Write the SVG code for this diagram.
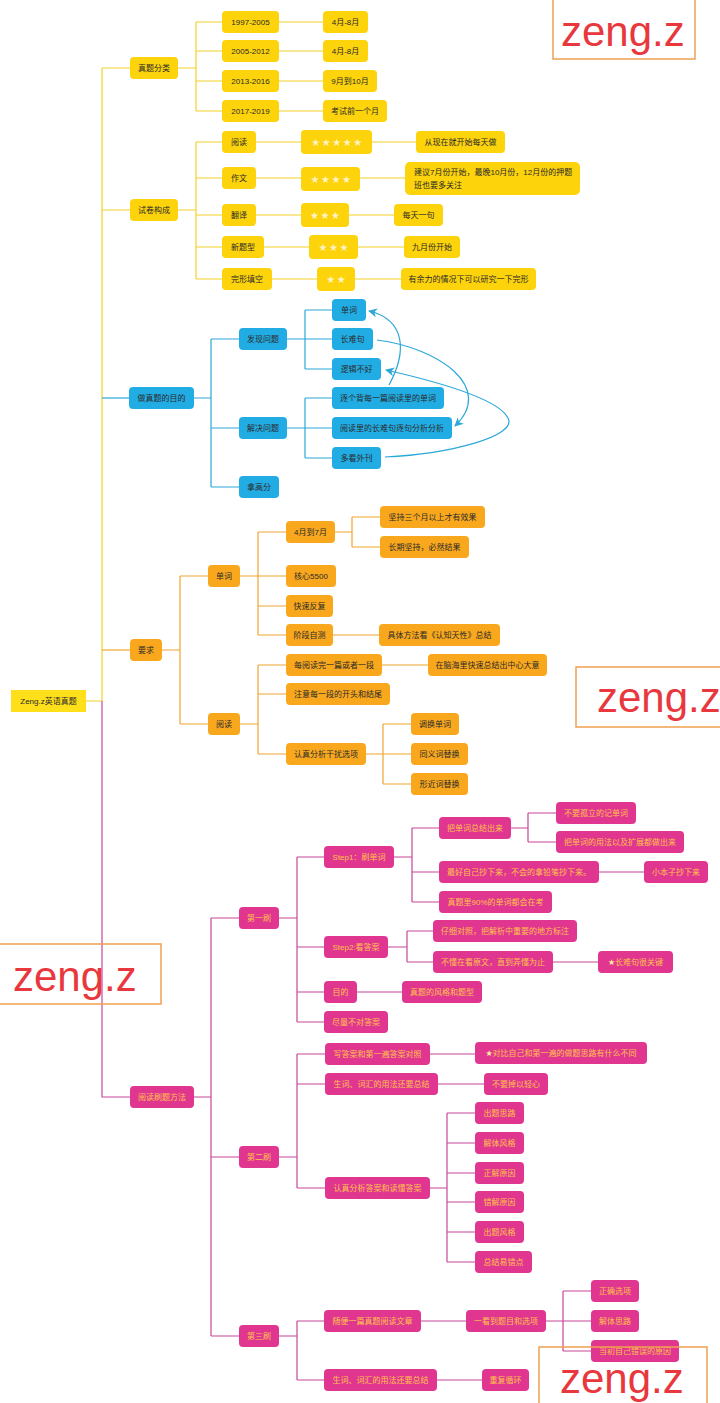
<svg xmlns="http://www.w3.org/2000/svg" width="720" height="1403" viewBox="0 0 720 1403">
<defs>
<style>
text{font-family:"Liberation Sans","Noto Sans CJK SC",sans-serif;font-size:8px;}
.t{fill:#2a2a2a;text-anchor:middle;}
.tm{fill:#FFC24A;text-anchor:middle;}
.tl{fill:#2a2a2a;}
.ny{fill:#FDD30C;}
.nb{fill:#22ACE4;}
.no{fill:#F9A81E;}
.nm{fill:#E1368F;}
.root{fill:#FFDF1A;}
.star{font-family:"DejaVu Sans",sans-serif;font-size:10px;fill:#FFF3C8;text-anchor:middle;letter-spacing:1.5px;}
.st{font-family:"DejaVu Sans",sans-serif;fill:#FFF0A0;}
.cy{stroke:#F2D22A;}
.cb{stroke:#2AA8D8;}
.co{stroke:#EFA630;}
.cm{stroke:#C8469A;}
#connectors path{fill:none;stroke-width:1.2;}
.arc{fill:none;stroke:#2AA8D8;stroke-width:1.2;marker-end:url(#ah);}
.wm rect{fill:none;stroke:#F0A050;stroke-width:1.5;}
.wm text{font-size:42px;fill:#E8383D;}
</style>
<marker id="ah" viewBox="0 0 10 10" refX="9" refY="5" markerWidth="9" markerHeight="9" markerUnits="userSpaceOnUse" orient="auto">
<path d="M0,0 L10,5 L0,10 L3,5 z" fill="#2AA8D8"/>
</marker>
</defs>
<rect width="720" height="1403" fill="#ffffff"/>

<g id="connectors">
<path class="cy" d="M86,701 H102 M102,68 V701 M102,68 H130 M102,210 H130"/>
<path class="cb" d="M102,398 H129"/>
<path class="co" d="M102,650 H130"/>
<path class="cm" d="M102,701 V1097 H130"/>
<path class="cy" d="M178,68 H196 M196,22 V111 M196,22 H222 M196,51 H222 M196,81 H222 M196,111 H222 M279,22 H323 M279,51 H323 M279,81 H323 M279,111 H323"/>
<path class="cy" d="M178,210 H196 M196,142 V279 M196,142 H222 M196,178 H222 M196,215 H222 M196,247 H222 M196,279 H222"/>
<path class="cy" d="M256,142 H301 M372,142 H416 M256,178 H301 M360,178 H405 M256,215 H301 M349,215 H394 M264,247 H309 M358,247 H404 M272,279 H317 M355,279 H401"/>
<path class="cb" d="M194,398 H211 M211,339 V487 M211,339 H239 M211,428 H239 M211,487 H239 M287,339 H305 M305,310 V369 M305,310 H332 M305,339 H332 M305,369 H332 M287,428 H305 M305,398 V458 M305,398 H332 M305,428 H332 M305,458 H332"/>
<path class="co" d="M162,650 H180 M180,576 V724 M180,576 H208 M180,724 H208 M240,576 H258 M258,532 V635 M258,532 H286 M258,576 H286 M258,606 H286 M258,635 H286 M335,532 H352 M352,517 V547 M352,517 H380 M352,547 H380 M333,635 H379 M240,724 H258 M258,665 V754 M258,665 H286 M258,694 H286 M258,754 H286 M382,665 H428 M366,754 H383 M383,724 V784 M383,724 H411 M383,754 H411 M383,784 H411"/>
<path class="cm" d="M194,1097 H211 M211,918 V1336 M211,918 H239 M211,1157 H239 M211,1336 H239 M279,918 H297 M297,857 V1022 M297,857 H324 M297,947 H324 M297,992 H324 M297,1022 H324 M394,857 H412 M412,828 V902 M412,828 H439 M412,872 H439 M412,902 H439 M511,828 H528 M528,813 V842 M528,813 H556 M528,842 H556 M599,872 H644 M388,947 H407 M407,931 V962 M407,931 H433 M407,962 H433 M553,962 H598 M357,992 H402"/>
<path class="cm" d="M279,1157 H297 M297,1054 V1188 M297,1054 H325 M297,1084 H325 M297,1188 H325 M430,1054 H475 M438,1084 H484 M430,1188 H447 M447,1113 V1262 M447,1113 H475 M447,1143 H475 M447,1173 H475 M447,1202 H475 M447,1232 H475 M447,1262 H475"/>
<path class="cm" d="M279,1336 H297 M297,1321 V1380 M297,1321 H324 M297,1380 H324 M421,1321 H466 M546,1321 H563 M563,1291 V1351 M563,1291 H591 M563,1321 H591 M563,1351 H591 M437,1380 H482"/>
<path class="arc" d="M389,385 C407,352 406,320 369,311"/>
<path class="arc" d="M377,340 C440,348 495,388 455,426"/>
<path class="arc" d="M385,457 C450,454 518,436 508,418 C498,398 430,380 386,370"/>
</g>

<g id="n-root"><rect class="root" x="11" y="690" width="75" height="22"/><text class="t" x="48.5" y="704">Zeng.z英语真题</text></g>

<g id="n-zhenti"><rect class="ny" x="130" y="57" width="48" height="22" rx="4"/><text class="t" x="154" y="71">真题分类</text></g>
<g id="n-y1"><rect class="ny" x="222" y="11" width="57" height="22" rx="4"/><text class="t" x="250.5" y="25">1997-2005</text></g>
<g id="n-y1b"><rect class="ny" x="323" y="11" width="45" height="22" rx="4"/><text class="t" x="345.5" y="25">4月-8月</text></g>
<g id="n-y2"><rect class="ny" x="222" y="40" width="57" height="22" rx="4"/><text class="t" x="250.5" y="54">2005-2012</text></g>
<g id="n-y2b"><rect class="ny" x="323" y="40" width="45" height="22" rx="4"/><text class="t" x="345.5" y="54">4月-8月</text></g>
<g id="n-y3"><rect class="ny" x="222" y="70" width="57" height="22" rx="4"/><text class="t" x="250.5" y="84">2013-2016</text></g>
<g id="n-y3b"><rect class="ny" x="323" y="70" width="54" height="22" rx="4"/><text class="t" x="350" y="84">9月到10月</text></g>
<g id="n-y4"><rect class="ny" x="222" y="100" width="57" height="22" rx="4"/><text class="t" x="250.5" y="114">2017-2019</text></g>
<g id="n-y4b"><rect class="ny" x="323" y="100" width="64" height="22" rx="4"/><text class="t" x="355" y="114">考试前一个月</text></g>

<g id="n-shijuan"><rect class="ny" x="130" y="199" width="48" height="22" rx="4"/><text class="t" x="154" y="213">试卷构成</text></g>
<g id="n-yuedu"><rect class="ny" x="222" y="131" width="34" height="22" rx="4"/><text class="t" x="239" y="145">阅读</text></g>
<g id="n-yuedu-s"><rect class="ny" x="301" y="130" width="71" height="24" rx="4"/><text class="star" x="337.5" y="146">★★★★★</text></g>
<g id="n-yuedu-d"><rect class="ny" x="416" y="131" width="89" height="22" rx="4"/><text class="t" x="460.5" y="145">从现在就开始每天做</text></g>
<g id="n-zuowen"><rect class="ny" x="222" y="167" width="34" height="22" rx="4"/><text class="t" x="239" y="181">作文</text></g>
<g id="n-zuowen-s"><rect class="ny" x="301" y="167" width="59" height="24" rx="4"/><text class="star" x="331.5" y="183">★★★★</text></g>
<g id="n-zuowen-d"><rect class="ny" x="405" y="162" width="175" height="33" rx="5"/><text class="tl" x="414" y="175">建议7月份开始，最晚10月份，12月份的押题</text><text class="tl" x="414" y="188">班也要多关注</text></g>
<g id="n-fanyi"><rect class="ny" x="222" y="204" width="34" height="22" rx="4"/><text class="t" x="239" y="218">翻译</text></g>
<g id="n-fanyi-s"><rect class="ny" x="301" y="203" width="48" height="24" rx="4"/><text class="star" x="325.8" y="219">★★★</text></g>
<g id="n-fanyi-d"><rect class="ny" x="394" y="204" width="49" height="22" rx="4"/><text class="t" x="418.5" y="218">每天一句</text></g>
<g id="n-xin"><rect class="ny" x="222" y="236" width="42" height="22" rx="4"/><text class="t" x="243" y="250">新题型</text></g>
<g id="n-xin-s"><rect class="ny" x="309" y="235" width="49" height="24" rx="4"/><text class="star" x="334.3" y="251">★★★</text></g>
<g id="n-xin-d"><rect class="ny" x="404" y="236" width="56" height="22" rx="4"/><text class="t" x="432" y="250">九月份开始</text></g>
<g id="n-wanxing"><rect class="ny" x="222" y="268" width="50" height="22" rx="4"/><text class="t" x="247" y="282">完形填空</text></g>
<g id="n-wanxing-s"><rect class="ny" x="317" y="267" width="38" height="24" rx="4"/><text class="star" x="336.8" y="283">★★</text></g>
<g id="n-wanxing-d"><rect class="ny" x="401" y="268" width="135" height="22" rx="4"/><text class="t" x="468.5" y="282">有余力的情况下可以研究一下完形</text></g>

<g id="n-mudi"><rect class="nb" x="129" y="387" width="65" height="22" rx="4"/><text class="t" x="161.5" y="401">做真题的目的</text></g>
<g id="n-faxian"><rect class="nb" x="239" y="328" width="48" height="22" rx="4"/><text class="t" x="263" y="342">发现问题</text></g>
<g id="n-jiejue"><rect class="nb" x="239" y="417" width="48" height="22" rx="4"/><text class="t" x="263" y="431">解决问题</text></g>
<g id="n-gaofen"><rect class="nb" x="239" y="476" width="40" height="22" rx="4"/><text class="t" x="259" y="490">拿高分</text></g>
<g id="n-danci-b"><rect class="nb" x="332" y="299" width="34" height="22" rx="4"/><text class="t" x="349" y="313">单词</text></g>
<g id="n-changnan"><rect class="nb" x="332" y="328" width="41" height="22" rx="4"/><text class="t" x="352.5" y="342">长难句</text></g>
<g id="n-luoji"><rect class="nb" x="332" y="358" width="49" height="22" rx="4"/><text class="t" x="356.5" y="372">逻辑不好</text></g>
<g id="n-zhuge"><rect class="nb" x="332" y="387" width="112" height="22" rx="4"/><text class="t" x="388" y="401">逐个背每一篇阅读里的单词</text></g>
<g id="n-zhuju"><rect class="nb" x="332" y="417" width="120" height="22" rx="4"/><text class="t" x="392" y="431">阅读里的长难句逐句分析分析</text></g>
<g id="n-waikan"><rect class="nb" x="332" y="447" width="49" height="22" rx="4"/><text class="t" x="356.5" y="461">多看外刊</text></g>

<g id="n-yaoqiu"><rect class="no" x="130" y="639" width="32" height="22" rx="4"/><text class="t" x="146" y="653">要求</text></g>
<g id="n-danci-o"><rect class="no" x="208" y="565" width="32" height="22" rx="4"/><text class="t" x="224" y="579">单词</text></g>
<g id="n-yuedu-o"><rect class="no" x="208" y="713" width="32" height="22" rx="4"/><text class="t" x="224" y="727">阅读</text></g>
<g id="n-47"><rect class="no" x="286" y="521" width="49" height="22" rx="4"/><text class="t" x="310.5" y="535">4月到7月</text></g>
<g id="n-hexin"><rect class="no" x="286" y="565" width="50" height="22" rx="4"/><text class="t" x="311" y="579">核心5500</text></g>
<g id="n-kuaisu"><rect class="no" x="286" y="595" width="47" height="22" rx="4"/><text class="t" x="309.5" y="609">快速反复</text></g>
<g id="n-jieduan"><rect class="no" x="286" y="624" width="47" height="22" rx="4"/><text class="t" x="309.5" y="638">阶段自测</text></g>
<g id="n-jianchi"><rect class="no" x="380" y="506" width="105" height="22" rx="4"/><text class="t" x="432.5" y="520">坚持三个月以上才有效果</text></g>
<g id="n-changqi"><rect class="no" x="380" y="536" width="89" height="22" rx="4"/><text class="t" x="424.5" y="550">长期坚持，必然结果</text></g>
<g id="n-juti"><rect class="no" x="379" y="624" width="121" height="22" rx="4"/><text class="t" x="439.5" y="638">具体方法看《认知天性》总结</text></g>
<g id="n-meiyuedu"><rect class="no" x="286" y="654" width="96" height="22" rx="4"/><text class="t" x="334" y="668">每阅读完一篇或者一段</text></g>
<g id="n-naohai"><rect class="no" x="428" y="654" width="119" height="22" rx="4"/><text class="t" x="487.5" y="668">在脑海里快速总结出中心大意</text></g>
<g id="n-zhuyi"><rect class="no" x="286" y="683" width="104" height="22" rx="4"/><text class="t" x="338" y="697">注意每一段的开头和结尾</text></g>
<g id="n-renzhen"><rect class="no" x="286" y="743" width="80" height="22" rx="4"/><text class="t" x="326" y="757">认真分析干扰选项</text></g>
<g id="n-diaohuan"><rect class="no" x="411" y="713" width="48" height="22" rx="4"/><text class="t" x="435" y="727">调换单词</text></g>
<g id="n-tongyi"><rect class="no" x="411" y="743" width="57" height="22" rx="4"/><text class="t" x="439.5" y="757">同义词替换</text></g>
<g id="n-xingjin"><rect class="no" x="411" y="773" width="57" height="22" rx="4"/><text class="t" x="439.5" y="787">形近词替换</text></g>

<g id="n-fangfa"><rect class="nm" x="130" y="1086" width="64" height="22" rx="4"/><text class="tm" x="162" y="1100">阅读刷题方法</text></g>
<g id="n-shua1"><rect class="nm" x="239" y="907" width="40" height="22" rx="4"/><text class="tm" x="259" y="921">第一刷</text></g>
<g id="n-step1"><rect class="nm" x="324" y="846" width="70" height="22" rx="4"/><text class="tm" x="359" y="860">Step1：刷单词</text></g>
<g id="n-step2"><rect class="nm" x="324" y="936" width="64" height="22" rx="4"/><text class="tm" x="356" y="950">Step2:看答案</text></g>
<g id="n-mudi2"><rect class="nm" x="324" y="981" width="33" height="22" rx="4"/><text class="tm" x="340.5" y="995">目的</text></g>
<g id="n-jinliang"><rect class="nm" x="324" y="1011" width="64" height="22" rx="4"/><text class="tm" x="356" y="1025">尽量不对答案</text></g>
<g id="n-zongjie"><rect class="nm" x="439" y="817" width="72" height="22" rx="4"/><text class="tm" x="475" y="831">把单词总结出来</text></g>
<g id="n-chao"><rect class="nm" x="439" y="861" width="160" height="22" rx="4"/><text class="tm" x="519" y="875">最好自己抄下来，不会的拿铅笔抄下来。</text></g>
<g id="n-90"><rect class="nm" x="439" y="891" width="113" height="22" rx="4"/><text class="tm" x="495.5" y="905">真题里90%的单词都会在考</text></g>
<g id="n-guli"><rect class="nm" x="556" y="802" width="80" height="22" rx="4"/><text class="tm" x="596" y="816">不要孤立的记单词</text></g>
<g id="n-yongfa"><rect class="nm" x="556" y="831" width="128" height="22" rx="4"/><text class="tm" x="620" y="845">把单词的用法以及扩展都做出来</text></g>
<g id="n-benzi"><rect class="nm" x="644" y="861" width="64" height="22" rx="4"/><text class="tm" x="676" y="875">小本子抄下来</text></g>
<g id="n-duizhao"><rect class="nm" x="433" y="920" width="144" height="22" rx="4"/><text class="tm" x="505" y="934">仔细对照，把解析中重要的地方标注</text></g>
<g id="n-budong"><rect class="nm" x="433" y="951" width="120" height="22" rx="4"/><text class="tm" x="493" y="965">不懂在看原文，直到弄懂为止</text></g>
<g id="n-guanjian"><rect class="nm" x="598" y="951" width="75" height="22" rx="4"/><text class="tm" x="635.5" y="965"><tspan class="st">★</tspan>长难句很关键</text></g>
<g id="n-fengge"><rect class="nm" x="402" y="981" width="80" height="22" rx="4"/><text class="tm" x="442" y="995">真题的风格和题型</text></g>
<g id="n-shua2"><rect class="nm" x="239" y="1146" width="40" height="22" rx="4"/><text class="tm" x="259" y="1160">第二刷</text></g>
<g id="n-xiedaan"><rect class="nm" x="325" y="1043" width="105" height="22" rx="4"/><text class="tm" x="377.5" y="1057">写答案和第一遍答案对照</text></g>
<g id="n-shengci2"><rect class="nm" x="325" y="1073" width="113" height="22" rx="4"/><text class="tm" x="381.5" y="1087">生词、词汇的用法还要总结</text></g>
<g id="n-fenxi"><rect class="nm" x="325" y="1177" width="105" height="22" rx="4"/><text class="tm" x="377.5" y="1191">认真分析答案和读懂答案</text></g>
<g id="n-duibi"><rect class="nm" x="475" y="1042" width="172" height="22" rx="4"/><text class="tm" x="561" y="1056"><tspan class="st">★</tspan>对比自己和第一遍的做题思路有什么不同</text></g>
<g id="n-buyao"><rect class="nm" x="484" y="1073" width="64" height="22" rx="4"/><text class="tm" x="516" y="1087">不要掉以轻心</text></g>
<g id="n-chuti"><rect class="nm" x="475" y="1102" width="49" height="22" rx="4"/><text class="tm" x="499.5" y="1116">出题思路</text></g>
<g id="n-jieti"><rect class="nm" x="475" y="1132" width="49" height="22" rx="4"/><text class="tm" x="499.5" y="1146">解体风格</text></g>
<g id="n-zhengjie"><rect class="nm" x="475" y="1162" width="49" height="22" rx="4"/><text class="tm" x="499.5" y="1176">正解原因</text></g>
<g id="n-cuojie"><rect class="nm" x="475" y="1191" width="49" height="22" rx="4"/><text class="tm" x="499.5" y="1205">错解原因</text></g>
<g id="n-chutifg"><rect class="nm" x="475" y="1221" width="49" height="22" rx="4"/><text class="tm" x="499.5" y="1235">出题风格</text></g>
<g id="n-yicuo"><rect class="nm" x="475" y="1251" width="57" height="22" rx="4"/><text class="tm" x="503.5" y="1265">总结易错点</text></g>
<g id="n-shua3"><rect class="nm" x="239" y="1325" width="40" height="22" rx="4"/><text class="tm" x="259" y="1339">第三刷</text></g>
<g id="n-suibian"><rect class="nm" x="324" y="1310" width="97" height="22" rx="4"/><text class="tm" x="372.5" y="1324">随便一篇真题阅读文章</text></g>
<g id="n-shengci3"><rect class="nm" x="324" y="1369" width="113" height="22" rx="4"/><text class="tm" x="380.5" y="1383">生词、词汇的用法还要总结</text></g>
<g id="n-yikan"><rect class="nm" x="466" y="1310" width="80" height="22" rx="4"/><text class="tm" x="506" y="1324">一看到题目和选项</text></g>
<g id="n-zhengque"><rect class="nm" x="591" y="1280" width="48" height="22" rx="4"/><text class="tm" x="615" y="1294">正确选项</text></g>
<g id="n-jiesilu"><rect class="nm" x="591" y="1310" width="48" height="22" rx="4"/><text class="tm" x="615" y="1324">解体思路</text></g>
<g id="n-dangchu"><rect class="nm" x="591" y="1340" width="88" height="22" rx="4"/><text class="tm" x="635" y="1354">当初自己错误的原因</text></g>
<g id="n-chongfu"><rect class="nm" x="482" y="1369" width="47" height="22" rx="4"/><text class="tm" x="505.5" y="1383">重复循环</text></g>

<g id="watermarks" class="wm">
<rect x="553" y="-2" width="142" height="61"/><text x="561" y="46">zeng.z</text>
<rect x="576" y="667" width="150" height="60"/><text x="597" y="712">zeng.z</text>
<rect x="-2" y="944" width="163" height="60"/><text x="13" y="991">zeng.z</text>
<rect x="539" y="1347" width="168" height="60"/><text x="560" y="1393">zeng.z</text>
</g>
</svg>
